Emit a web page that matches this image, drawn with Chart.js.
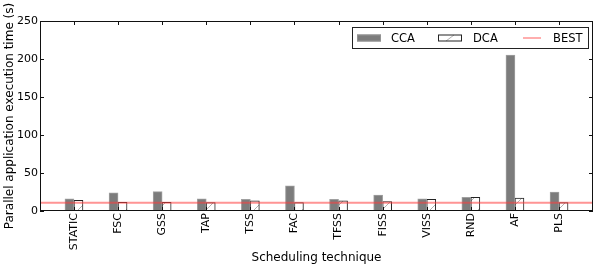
<!DOCTYPE html>
<html><head><meta charset="utf-8">
<script src="https://cdn.jsdelivr.net/npm/chart.js@4/dist/chart.umd.min.js"></script>
<style>html,body{margin:0;padding:0;background:#fff}</style>
</head><body>
<canvas id="c" width="598" height="268" style="display:block;width:598px;height:268px"></canvas>
<script>
const categories = ['STATIC','FSC','GSS','TAP','TSS','FAC','TFSS','FISS','VISS','RND','AF','PLS'];
const ccaValues = [16, 24, 25.5, 16, 15.5, 33, 15.5, 21, 16, 18, 205, 25];
const dcaValues = [14, 11.5, 11.5, 11, 13.5, 11, 13.5, 12.5, 15.5, 18, 17, 11];
const bestValue = 11;
const yTickValues = [0, 50, 100, 150, 200, 250];
const seriesNames = ['CCA', 'DCA', 'BEST'];

const FONT = 'DejaVu Sans';
const X_MIN = -0.77, X_MAX = categories.length - 1 + 0.77;

// hatch pattern for DCA
function makeHatch() {
  const s = 16;
  const cv = document.createElement('canvas');
  cv.width = s; cv.height = s;
  const g = cv.getContext('2d');
  g.fillStyle = '#ffffff'; g.fillRect(0, 0, s, s);
  g.strokeStyle = '#b0b0b0'; g.lineWidth = 1;
  g.beginPath(); g.moveTo(0, s); g.lineTo(s, 0); g.stroke();
  return g.createPattern(cv, 'repeat');
}
const hatch = makeHatch();

const frameTicks = {
  id: 'frameTicks',
  afterDraw(chart) {
    const { ctx, chartArea: a, scales } = chart;
    ctx.save();
    ctx.strokeStyle = '#111'; ctx.lineWidth = 1;
    ctx.strokeRect(Math.round(a.left) + 0.5, Math.round(a.top) + 0.5,
      Math.round(a.right - a.left) - 1, Math.round(a.bottom - a.top) - 1);
    const L = 4;
    ctx.beginPath();
    scales.x.ticks.forEach(t => {
      const px = Math.round(scales.x.getPixelForValue(t.value)) + 0.5;
      ctx.moveTo(px, a.bottom); ctx.lineTo(px, a.bottom - L);
      ctx.moveTo(px, a.top); ctx.lineTo(px, a.top + L);
    });
    scales.y.ticks.forEach(t => {
      const py = Math.round(scales.y.getPixelForValue(t.value)) + 0.5;
      ctx.moveTo(a.left, py); ctx.lineTo(a.left + L, py);
      ctx.moveTo(a.right, py); ctx.lineTo(a.right - L, py);
    });
    ctx.stroke();

    // legend box
    const bx = 352.5, by = 27.5, bw = 236, bh = 21;
    ctx.fillStyle = '#fff';
    ctx.fillRect(bx, by, bw, bh);
    ctx.strokeStyle = '#222';
    ctx.strokeRect(bx, by, bw, bh);
    const cy = by + bh / 2;
    const ds = chart.data.datasets;
    ctx.font = '11.5px "' + FONT + '"';
    ctx.textBaseline = 'middle';
    ctx.textAlign = 'left';
    // CCA
    ctx.fillStyle = ds[0].backgroundColor;
    ctx.fillRect(357, cy - 3.5, 24, 7);
    ctx.strokeStyle = ds[0].borderColor;
    ctx.strokeRect(357.5, cy - 3, 23, 6);
    ctx.fillStyle = '#000';
    ctx.fillText(ds[0].label, 391, cy + 1);
    // DCA
    ctx.fillStyle = '#fff';
    ctx.fillRect(438, cy - 3.5, 24, 7);
    ctx.strokeStyle = '#b0b0b0';
    ctx.beginPath(); ctx.moveTo(446, cy + 3); ctx.lineTo(454, cy - 3); ctx.stroke();
    ctx.strokeStyle = ds[1].borderColor;
    ctx.strokeRect(438.5, cy - 3, 23, 6);
    ctx.fillStyle = '#000';
    ctx.fillText(ds[1].label, 473, cy + 1);
    // BEST
    ctx.strokeStyle = ds[2].borderColor;
    ctx.lineWidth = 1.5;
    ctx.beginPath(); ctx.moveTo(523, cy); ctx.lineTo(541, cy); ctx.stroke();
    ctx.fillStyle = '#000';
    ctx.fillText(ds[2].label, 553, cy + 1);
    ctx.restore();
  }
};

new Chart(document.getElementById('c'), {
  type: 'bar',
  data: {
    datasets: [
      {
        label: seriesNames[0],
        data: ccaValues.map((v, i) => ({ x: i, y: v })),
        backgroundColor: '#7c7c7c',
        borderColor: 'rgba(150,150,150,0.9)',
        borderWidth: 1,
        barThickness: 9,
        order: 2
      },
      {
        label: seriesNames[1],
        data: dcaValues.map((v, i) => ({ x: i, y: v })),
        backgroundColor: hatch,
        borderColor: '#222',
        borderWidth: 1,
        barThickness: 9,
        order: 2
      },
      {
        type: 'line',
        label: seriesNames[2],
        data: [{ x: X_MIN, y: bestValue }, { x: X_MAX, y: bestValue }],
        borderColor: 'rgba(255,60,60,0.55)',
        borderWidth: 2,
        pointRadius: 0,
        order: 1
      }
    ]
  },
  options: {
    responsive: false,
    animation: false,
    devicePixelRatio: 1,
    layout: { padding: { top: 21, right: 5, left: 0, bottom: 0 } },
    plugins: { legend: { display: false }, tooltip: { enabled: false } },
    scales: {
      x: {
        type: 'linear',
        offset: false,
        min: X_MIN, max: X_MAX,
        grid: { display: false, drawTicks: false, offset: false },
        border: { display: false },
        afterBuildTicks: s => { s.ticks = categories.map((_, i) => ({ value: i })); },
        afterFit: s => { s.height = 57; },
        ticks: {
          autoSkip: false, maxRotation: 90, minRotation: 90, padding: 2,
          color: '#000', font: { family: FONT, size: 11 },
          callback: v => categories[v]
        },
        title: { display: true, text: 'Scheduling technique', color: '#000',
          font: { family: FONT, size: 12 }, padding: { top: 0, bottom: 3 } }
      },
      y: {
        min: 0, max: 250,
        grid: { display: false, drawTicks: false },
        border: { display: false },
        afterBuildTicks: s => { s.ticks = yTickValues.map(v => ({ value: v })); },
        afterFit: s => { s.width = 40; },
        ticks: { padding: 2, color: '#000', font: { family: FONT, size: 11 } },
        title: { display: true, text: 'Parallel application execution time (s)', color: '#000',
          font: { family: FONT, size: 12 }, padding: { top: 3, bottom: 0 } }
      }
    }
  },
  plugins: [frameTicks]
});
</script>
</body></html>
